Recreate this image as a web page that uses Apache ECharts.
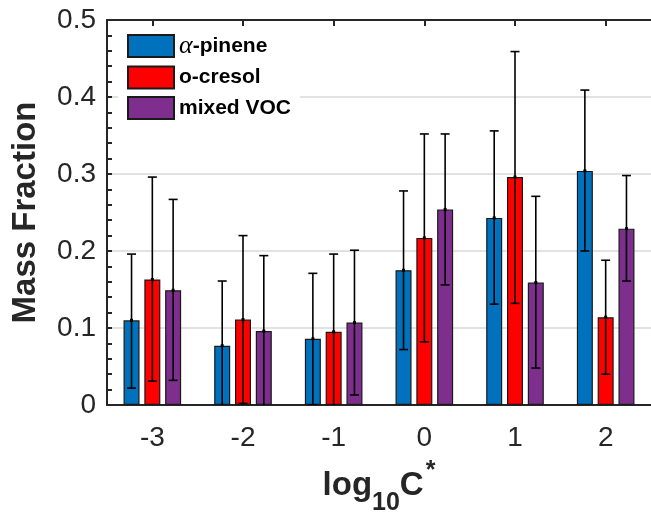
<!DOCTYPE html>
<html>
<head>
<meta charset="utf-8">
<script src="https://cdn.jsdelivr.net/npm/echarts@6/dist/echarts.min.js"></script>
<style>
html,body{margin:0;padding:0;background:#fff;}
#chart{width:651px;height:521px;}
</style>
</head>
<body>
<div id="chart"></div>
<script>
// ---- data ----
const categories = ['-3', '-2', '-1', '0', '1', '2'];
const seriesNames = ['α-pinene', 'o-cresol', 'mixed VOC'];
const pineneVal  = [0.110, 0.077, 0.086, 0.175, 0.243, 0.304];
const pineneLow  = [0.022, -0.007, 0.000, 0.072, 0.131, 0.200];
const pineneHigh = [0.196, 0.161, 0.171, 0.278, 0.356, 0.409];
const cresolVal  = [0.163, 0.111, 0.095, 0.217, 0.296, 0.114];
const cresolLow  = [0.031, 0.002, -0.006, 0.082, 0.132, 0.040];
const cresolHigh = [0.296, 0.220, 0.196, 0.352, 0.459, 0.188];
const mixedVal   = [0.149, 0.096, 0.107, 0.254, 0.159, 0.229];
const mixedLow   = [0.032, -0.002, 0.013, 0.156, 0.048, 0.161];
const mixedHigh  = [0.267, 0.194, 0.201, 0.352, 0.271, 0.298];
const yTicks = [0, 0.1, 0.2, 0.3, 0.4, 0.5];

// ---- styling ----
const colors = ['#0072BD', '#FF0000', '#7E2F8E'];
const axisColor = '#262626';
const BAR_W = 16;
const BAR_GAP = 0.3;
const values = [pineneVal, cresolVal, mixedVal];
const lows = [pineneLow, cresolLow, mixedLow];
const highs = [pineneHigh, cresolHigh, mixedHigh];

const step = BAR_W * (1 + BAR_GAP);
function offsetFor(k) { return (k - 1) * step; }

const barSeries = seriesNames.map((name, k) => ({
  type: 'bar',
  name: name,
  data: values[k],
  barWidth: BAR_W,
  barGap: (BAR_GAP * 100) + '%',
  itemStyle: { color: colors[k], borderColor: '#1a1a1a', borderWidth: 1.2 },
  emphasis: { disabled: true },
  z: 2
}));

const errSeries = seriesNames.map((name, k) => ({
  type: 'custom',
  name: 'err' + k,
  clip: true,
  z: 5,
  encode: { x: 0, y: [1, 2] },
  data: categories.map((c, i) => [i, lows[k][i], highs[k][i], values[k][i]]),
  renderItem: function (params, api) {
    const i = api.value(0);
    const lo = api.coord([i, api.value(1)]);
    const hi = api.coord([i, api.value(2)]);
    const mid = api.coord([i, api.value(3)]);
    const x = lo[0] + offsetFor(k);
    const cap = 4.5;
    const st = { stroke: '#000', lineWidth: 1.6 };
    return {
      type: 'group',
      children: [
        { type: 'line', shape: { x1: x, y1: lo[1], x2: x, y2: hi[1] }, style: st },
        { type: 'line', shape: { x1: x - cap, y1: hi[1], x2: x + cap, y2: hi[1] }, style: st },
        { type: 'line', shape: { x1: x - cap, y1: lo[1], x2: x + cap, y2: lo[1] }, style: st },
        { type: 'rect', shape: { x: x - 1.5, y: mid[1] - 1.5, width: 3, height: 3 }, style: { fill: '#000' } }
      ]
    };
  }
}));

const chart = echarts.init(document.getElementById('chart'), null, { renderer: 'canvas' });
chart.setOption({
  animation: false,
  backgroundColor: '#fff',
  textStyle: { fontFamily: 'Liberation Sans, Arial, Helvetica, sans-serif' },
  grid: { left: 107, top: 20, width: 552, height: 393 },
  legend: {
    data: seriesNames,
    orient: 'vertical',
    left: 118,
    top: 26,
    padding: [7, 9, 6, 9],
    itemWidth: 46,
    itemHeight: 22,
    itemGap: 6.5,
    backgroundColor: '#fff',
    icon: 'rect',
    z: 10,
    selectedMode: false,
    formatter: function (name) {
      if (name.charAt(0) === 'α') return '{a|α}' + name.slice(1);
      return name;
    },
    textStyle: {
      fontSize: 21,
      fontWeight: 'bold',
      color: '#000',
      fontFamily: 'Liberation Sans, Arial, sans-serif',
      rich: {
        a: { fontFamily: 'Liberation Serif, DejaVu Serif, serif', fontStyle: 'italic', fontWeight: 'normal', fontSize: 26, color: '#000' }
      }
    }
  },
  xAxis: [
    {
      type: 'category',
      data: categories,
      position: 'bottom',
      axisLine: { lineStyle: { color: axisColor, width: 2 } },
      axisTick: { show: true, inside: true, alignWithLabel: true, length: 6, lineStyle: { color: axisColor, width: 2 } },
      axisLabel: { fontSize: 28, color: axisColor, margin: 19 },
      name: '{b|log}{s|10}{b|C}{p|*}',
      nameLocation: 'middle',
      nameGap: 54,
      nameTextStyle: {
        color: axisColor,
        verticalAlign: 'top',
        rich: {
          b: { fontSize: 33, fontWeight: 'bold', lineHeight: 33, color: axisColor, verticalAlign: 'top', padding: [10, 0, 0, 0] },
          s: { fontSize: 25, fontWeight: 'bold', lineHeight: 25, color: axisColor, verticalAlign: 'top', padding: [32, 0, 0, 0] },
          p: { fontSize: 25, fontWeight: 'bold', lineHeight: 25, color: axisColor, verticalAlign: 'top', padding: [0, 0, 0, 2] }
        }
      }
    },
    {
      type: 'category',
      data: categories,
      position: 'top',
      axisLine: { lineStyle: { color: axisColor, width: 2 } },
      axisTick: { show: true, inside: true, alignWithLabel: true, length: 6, lineStyle: { color: axisColor, width: 2 } },
      axisLabel: { show: false }
    }
  ],
  yAxis: {
    type: 'value',
    min: yTicks[0],
    max: yTicks[yTicks.length - 1],
    interval: 0.1,
    axisLine: { show: true, lineStyle: { color: axisColor, width: 2 } },
    axisTick: { show: true, inside: true, length: 5, lineStyle: { color: axisColor, width: 2 } },
    minorTick: { show: true, splitNumber: 5, length: 5, lineStyle: { color: axisColor, width: 2 } },
    axisLabel: {
      fontSize: 28, color: axisColor, margin: 11,
      formatter: function (v) { return v === 0 ? '0' : v.toFixed(1); }
    },
    splitLine: { show: true, lineStyle: { color: '#e2e2e2', width: 2 } },
    name: 'Mass Fraction',
    nameLocation: 'middle',
    nameGap: 65,
    nameTextStyle: { fontSize: 33, fontWeight: 'bold', color: axisColor }
  },
  series: barSeries.concat(errSeries)
});
</script>
</body>
</html>
